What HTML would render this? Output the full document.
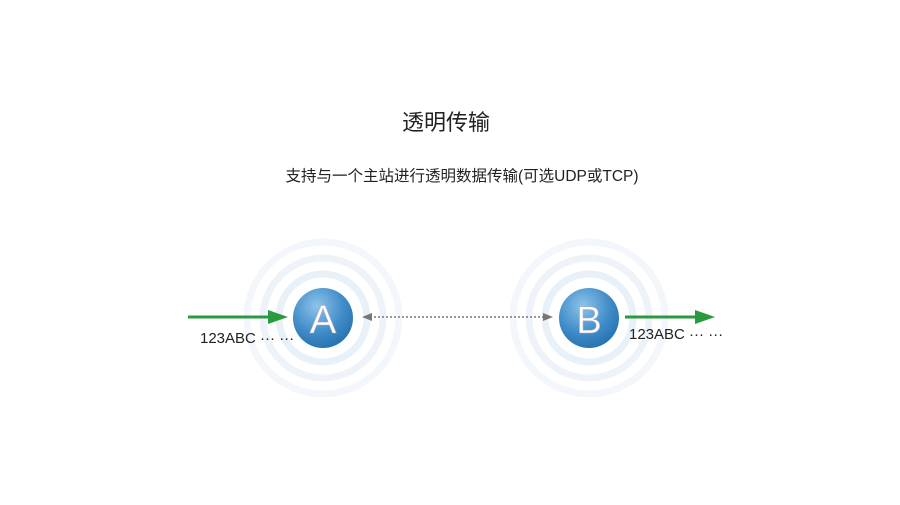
<!DOCTYPE html>
<html><head><meta charset="utf-8"><style>
body{margin:0;width:900px;height:500px;background:#fff;overflow:hidden;font-family:"Liberation Sans","Noto Sans CJK SC",sans-serif;}
</style></head><body>
<svg width="900" height="500" xmlns="http://www.w3.org/2000/svg">
<defs>
<radialGradient id="g" cx="40%" cy="30%" r="75%">
<stop offset="0" stop-color="#8ec3ea"/><stop offset="0.6" stop-color="#3f8cc8"/><stop offset="1" stop-color="#2570ad"/>
</radialGradient>
</defs>
<text x="446" y="130" font-size="22" text-anchor="middle" fill="#222" font-family="Liberation Sans,Noto Sans CJK SC,sans-serif">透明传输</text>
<text x="462" y="181" font-size="15.5" text-anchor="middle" fill="#222" font-family="Liberation Sans,Noto Sans CJK SC,sans-serif">支持与一个主站进行透明数据传输(可选UDP或TCP)</text>
<g fill="none" stroke-width="7">
<circle cx="323" cy="318" r="44" stroke="#e8f1f8"/><circle cx="323" cy="318" r="60" stroke="#edf3f9"/><circle cx="323" cy="318" r="76" stroke="#f3f7fb"/>
<circle cx="589" cy="318" r="44" stroke="#e8f1f8"/><circle cx="589" cy="318" r="60" stroke="#edf3f9"/><circle cx="589" cy="318" r="76" stroke="#f3f7fb"/>
</g>
<circle cx="323" cy="318" r="30" fill="url(#g)"/>
<circle cx="589" cy="318" r="30" fill="url(#g)"/>
<text x="323" y="333" font-size="40" text-anchor="middle" fill="#fff" stroke="#aac" stroke-width="0.6" font-family="Liberation Sans,sans-serif">A</text>
<text x="589" y="333" font-size="38" text-anchor="middle" fill="#fff" stroke="#aac" stroke-width="0.6" font-family="Liberation Sans,sans-serif">B</text>
<line x1="188" y1="317" x2="270" y2="317" stroke="#2a9a3e" stroke-width="3"/>
<polygon points="268,310 288,317 268,324" fill="#2a9a3e"/>
<line x1="625" y1="317" x2="697" y2="317" stroke="#2a9a3e" stroke-width="3"/>
<polygon points="695,310 715,317 695,324" fill="#2a9a3e"/>
<line x1="370" y1="317" x2="545" y2="317" stroke="#777" stroke-width="1.5" stroke-dasharray="2,2"/>
<polygon points="362,317 372,313 372,321" fill="#777"/>
<polygon points="553,317 543,313 543,321" fill="#777"/>
<text x="200" y="343" font-size="15" fill="#222">123ABC ··· ···</text>
<text x="629" y="339" font-size="15" fill="#222">123ABC ··· ···</text>
</svg>
</body></html>
